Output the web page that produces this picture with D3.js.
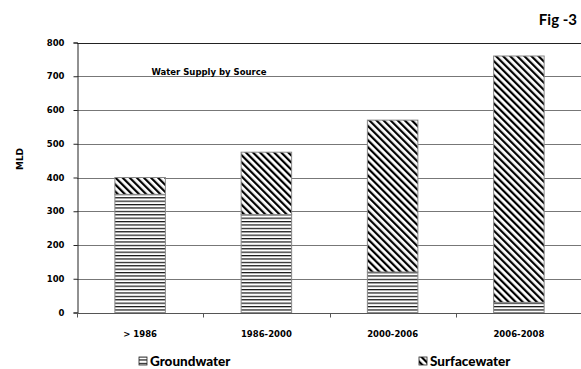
<!DOCTYPE html>
<html>
<head>
<meta charset="utf-8">
<script src="https://cdn.jsdelivr.net/npm/d3@7"></script>
<style>
  html, body { margin: 0; padding: 0; background: #fff; }
  svg { display: block; }
  .lbl { font-family: "DejaVu Sans", "Liberation Sans", sans-serif; font-weight: bold; fill: #000; }
</style>
</head>
<body>
<svg id="chart" width="581" height="369"></svg>
<script>
// Water supply by source (MLD)
const periods = ["> 1986", "1986-2000", "2000-2006", "2006-2008"];
const groundwater = [350, 290, 120, 30];
const surfacewater = [50, 185, 450, 730];
const yTicks = [0, 100, 200, 300, 400, 500, 600, 700, 800];
const seriesNames = ["Groundwater", "Surfacewater"];

const svg = d3.select("#chart");
const margin = { left: 77, right: 0, top: 42.5, bottom: 56.5 };
const W = 581, H = 369;

const x = d3.scaleBand().domain(periods).range([margin.left, 582]).paddingInner(0.6).paddingOuter(0.3);
const y = d3.scaleLinear().domain([0, 800]).range([H - margin.bottom, margin.top]);

// Fill patterns
const defs = svg.append("defs");
const hp = defs.append("pattern").attr("id", "horiz").attr("patternUnits", "userSpaceOnUse")
  .attr("width", 6).attr("height", 3.4);
hp.append("rect").attr("width", 6).attr("height", 3.4).attr("fill", "#fff");
hp.append("rect").attr("y", 0).attr("width", 6).attr("height", 1.2).attr("fill", "#111");

const dp = defs.append("pattern").attr("id", "diag").attr("patternUnits", "userSpaceOnUse")
  .attr("width", 5).attr("height", 5).attr("patternTransform", "rotate(-45)");
dp.append("rect").attr("width", 5).attr("height", 5).attr("fill", "#fff");
dp.append("rect").attr("x", 0).attr("width", 2.2).attr("height", 5).attr("fill", "#000");

// Gridlines
svg.append("g").selectAll("line").data(yTicks.filter(d => d > 0)).join("line")
  .attr("x1", margin.left).attr("x2", W)
  .attr("y1", d => Math.round(y(d)) + 0.5).attr("y2", d => Math.round(y(d)) + 0.5)
  .attr("stroke", d => d === 800 ? "#222" : "#777").attr("stroke-width", 1);

// Y axis
const yAxis = svg.append("g").attr("transform", `translate(${margin.left + 0.5},0)`)
  .call(d3.axisLeft(y).tickValues(yTicks).tickSize(4).tickPadding(9));
yAxis.select(".domain").attr("stroke", "#222");
yAxis.selectAll(".tick line").attr("stroke", "#222");
yAxis.selectAll("text").attr("class", "lbl").style("font-size", "8.5px");

// Stacked bars
const stackData = periods.map((p, i) => ({ period: p, Groundwater: groundwater[i], Surfacewater: surfacewater[i] }));
const stacked = d3.stack().keys(seriesNames)(stackData);
const fills = { Groundwater: "url(#horiz)", Surfacewater: "url(#diag)" };
svg.append("g").selectAll("g").data(stacked).join("g")
  .attr("fill", d => fills[d.key])
  .selectAll("rect").data(d => d).join("rect")
  .attr("x", d => x(d.data.period))
  .attr("width", x.bandwidth())
  .attr("y", d => y(d[1]))
  .attr("height", d => y(d[0]) - y(d[1]))
  .attr("stroke", "#888").attr("stroke-width", 1);

// X axis
const xAxisY = Math.round(y(0)) + 0.5;
svg.append("line").attr("x1", margin.left).attr("x2", W).attr("y1", xAxisY).attr("y2", xAxisY)
  .attr("stroke", "#555").attr("stroke-width", 1.2);
const bounds = periods.map(p => x(p) - x.step() * x.paddingInner() / 2).concat([582]);
svg.append("g").selectAll("line").data(bounds).join("line")
  .attr("x1", d => Math.round(d) + 0.5).attr("x2", d => Math.round(d) + 0.5)
  .attr("y1", xAxisY).attr("y2", xAxisY + 4).attr("stroke", "#555");
svg.append("g").selectAll("text").data(periods).join("text")
  .attr("class", "lbl").style("font-size", "8.5px")
  .attr("x", d => x(d) + x.bandwidth() / 2).attr("y", 337)
  .attr("text-anchor", "middle").text(d => d);

// Y label
svg.append("text").attr("class", "lbl").style("font-size", "9px")
  .attr("transform", "translate(23,159) rotate(-90)").attr("text-anchor", "middle").text("MLD");

// Chart title
svg.append("text").attr("class", "lbl").style("font-size", "8.5px")
  .attr("x", 209).attr("y", 75).attr("text-anchor", "middle").text("Water Supply by Source");

// Figure number
svg.append("text").style("font-family", "Lato, 'Open Sans', sans-serif").style("font-weight", "bold")
  .style("font-size", "15px").attr("x", 577).attr("y", 25).attr("text-anchor", "end").text("Fig -3");

// Legend
const legend = [
  { name: seriesNames[0], fill: "url(#horiz)", x: 139 },
  { name: seriesNames[1], fill: "url(#diag)", x: 419 }
];
const lg = svg.append("g").selectAll("g").data(legend).join("g")
  .attr("transform", d => `translate(${d.x},356)`);
lg.append("rect").attr("y", 1).attr("width", 8).attr("height", 8).attr("fill", d => d.fill)
  .attr("stroke", "#222").attr("stroke-width", 0.8);
lg.append("text").style("font-family", "Lato, 'Open Sans', sans-serif").style("font-weight", "900")
  .style("font-size", "13.5px").attr("x", 11).attr("y", 10).text(d => d.name);
</script>
</body>
</html>
